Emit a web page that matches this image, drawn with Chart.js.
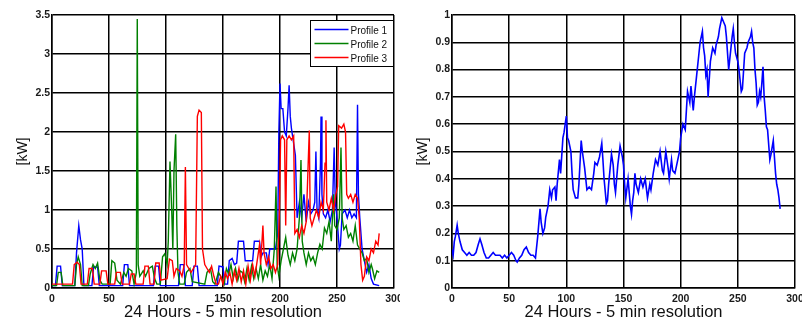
<!DOCTYPE html>
<html>
<head>
<meta charset="utf-8">
<script src="https://cdn.jsdelivr.net/npm/chart.js@4.4.1/dist/chart.umd.min.js"></script>
<style>
  html, body { margin: 0; padding: 0; background: #fff; }
  #wrap { position: relative; width: 802px; height: 323px; }
  .box { position: absolute; top: 0; height: 323px; }
</style>
</head>
<body>
<div id="wrap">
  <div class="box" style="left:0;width:400px"><canvas id="left" width="400" height="323"></canvas></div>
  <div class="box" style="left:400px;width:402px"><canvas id="right" width="402" height="323"></canvas></div>
</div>
<script>
// axis ticks / labels
const xTicks = [0, 50, 100, 150, 200, 250, 300];
const leftYTicks = [0, 0.5, 1, 1.5, 2, 2.5, 3, 3.5];
const rightYTicks = [0, 0.1, 0.2, 0.3, 0.4, 0.5, 0.6, 0.7, 0.8, 0.9, 1];
const xTitle = '24 Hours - 5 min resolution';
const yTitle = '[kW]';
const profileNames = ['Profile 1', 'Profile 2', 'Profile 3'];
const profileColors = ['#0000ff', '#008000', '#ff0000'];

// [5-min slot, kW]
const profile1 = [[0,0.03],[3,0.03],[4.5,0.28],[7.5,0.28],[9,0.03],[20,0.03],[21.5,0.45],[23.5,0.8],[25,0.62],[26.5,0.5],[28,0.03],
  [35,0.03],[36.5,0.27],[40,0.27],[41.5,0.03],[62,0.03],[63.5,0.3],[66.5,0.3],[68,0.03],[89,0.03],[90.5,0.28],[93.5,0.28],[95,0.03],
  [111,0.03],[112.5,0.3],[115.5,0.3],[117,0.03],[123,0.03],[124.5,0.28],[127.5,0.28],[129,0.03],[145,0.03],[146.5,0.28],[150,0.27],
  [151.5,0.05],[154,0.05],[155.5,0.35],[158,0.38],[160,0.3],[162,0.32],[163.5,0.6],[168,0.6],[169.5,0.35],[176,0.35],[177.5,0.6],
  [182,0.6],[183.5,0.4],[185,0.45],[188,0.45],[189.5,0.3],[191,0.5],[196,0.5],[198,0.7],[199,2.0],[200,2.62],[201,2.3],[202.5,2.3],
  [204,2.0],[205.5,1.95],[207,2.3],[208,2.6],[209,2.2],[210,2.05],[212,1.85],[213.5,1.7],[215,0.9],[217,1.1],[219,0.9],[221,1.2],
  [223,0.85],[225,1.1],[227,0.95],[229,1.0],[230.5,1.1],[231.5,1.75],[232.5,1.0],[234,0.9],[235.5,1.6],[236,2.2],[236.8,1.2],[238,0.95],
  [240,0.9],[242,1.0],[244,0.85],[246,1.0],[247.5,1.8],[248.5,1.1],[250,0.9],[252,0.5],[253,0.55],[254.5,0.95],[257,1.0],[259,0.9],
  [261,1.0],[263,0.9],[265,0.95],[267,0.9],[268,2.35],[268.8,1.2],[270,0.9],[272,0.5],[274,0.35],[276,0.2],[278,0.3],[280,0.12],
  [282,0.05],[287,0.03]];

const profile2 = [[0,0.03],[4,0.03],[5.5,0.2],[8,0.2],[9.5,0.03],[20,0.03],[21.5,0.3],[23,0.4],[25,0.3],[26.5,0.03],[32,0.03],
  [33.5,0.18],[36,0.3],[38,0.25],[40,0.32],[42,0.1],[44,0.05],[51,0.05],[52.5,0.35],[55,0.32],[57,0.1],[60,0.05],[63,0.2],[65,0.15],
  [67,0.25],[70,0.22],[72,0.05],[74,0.2],[74.8,3.45],[75.6,0.3],[77,0.15],[80,0.22],[82,0.15],[85,0.25],[88,0.28],[90,0.12],[92,0.05],
  [95,0.05],[97,0.4],[99,0.44],[101,0.3],[102,0.6],[103.5,1.62],[105,1.0],[106,0.5],[107,1.5],[108.5,1.97],[109.5,0.8],[110.5,0.2],
  [112,0.05],[116,0.05],[118,0.2],[121,0.25],[123,0.08],[134,0.05],[136,0.2],[139,0.25],[141,0.08],[143,0.05],[146,0.2],[149,0.12],
  [151,0.05],[153,0.25],[155,0.18],[157,0.3],[159,0.12],[161,0.25],[163,0.1],[165,0.22],[167,0.2],[169,0.08],[171,0.25],[173,0.1],
  [175,0.28],[177,0.12],[179,0.25],[181,0.12],[183,0.3],[185,0.1],[187,0.22],[189,0.15],[191,0.3],[193,0.12],[195,0.5],[196.5,1.3],
  [197.5,0.3],[199,0.15],[201,0.35],[203,0.5],[205,0.65],[207,0.42],[209,0.3],[211,0.45],[213,0.35],[215,0.5],[217,0.9],[218.4,1.64],
  [219.5,0.6],[221,0.45],[223,0.3],[225,0.45],[227,0.35],[229,0.4],[231,0.3],[233,0.45],[235,0.56],[237,0.5],[239,0.77],[241,0.7],
  [243,0.85],[245,0.6],[247,1.2],[248,0.8],[250,0.75],[252,0.9],[253.5,1.8],[254.5,0.9],[256,0.75],[258,0.8],[260,0.65],[262,0.7],
  [264,0.6],[266,0.8],[268,0.55],[270,0.5],[272,0.45],[274,0.35],[276,0.38],[278,0.2],[280,0.3],[281,0.25],[283,0.12],[285,0.22],[287,0.2]];

const profile3 = [[0,0.05],[18,0.05],[19.5,0.3],[22,0.33],[24,0.3],[25.5,0.05],[31,0.05],[32.5,0.25],[35.5,0.25],[37,0.05],[42,0.05],
  [43.5,0.22],[47.5,0.22],[49,0.05],[55,0.05],[56.5,0.2],[60,0.2],[61.5,0.05],[68,0.05],[69.5,0.18],[72,0.18],[73.5,0.05],[80,0.05],
  [81.5,0.28],[84.5,0.28],[86,0.05],[89.5,0.05],[91,0.32],[94,0.32],[95.5,0.1],[101,0.12],[103,0.37],[105.5,0.35],[107,0.15],[109,0.25],
  [112,0.22],[114,0.15],[116,0.3],[117,1.55],[118,0.3],[120,0.25],[122,0.2],[124,0.25],[126,0.3],[127.5,2.2],[129,2.28],[131,2.25],
  [132,0.5],[134,0.3],[136,0.25],[138,0.2],[140,0.28],[142,0.15],[144,0.05],[146,0.05],[148,0.15],[150,0.05],[152,0.2],[154,0.12],
  [156,0.2],[158,0.05],[160,0.22],[162,0.1],[164,0.25],[166,0.08],[168,0.22],[170,0.05],[172,0.28],[174,0.1],[176,0.3],[178,0.15],
  [180,0.35],[182,0.55],[183,0.3],[185,0.8],[186,0.45],[188,0.3],[190,0.4],[192,0.25],[194,0.3],[196,0.2],[198,0.3],[199.5,1.0],
  [200.5,1.9],[202,1.95],[204,1.9],[205,0.8],[206,1.9],[208,1.95],[210,1.9],[212,1.95],[213,0.7],[215,0.75],[217,0.65],[219,0.8],
  [221,0.7],[223,0.85],[224.5,1.5],[225.7,2.02],[226.5,0.9],[228,0.8],[230,0.9],[232,1.0],[234,0.9],[236,1.1],[238,1.0],[239.5,1.6],
  [240.3,2.15],[241,1.1],[243,1.0],[245,1.15],[247,1.0],[249,1.2],[250.5,1.3],[251.5,2.08],[254,2.05],[256,2.1],[257.5,2.0],[258.5,1.2],
  [260,1.15],[262,1.2],[264,1.1],[266,1.2],[268,1.15],[269.5,0.9],[271,0.3],[272.5,0.1],[274,0.15],[276,0.4],[278,0.35],[280,0.5],
  [282,0.45],[284,0.6],[286,0.55],[287,0.7]];

// mean profile, right plot
const meanProfile = [[0,0.14],[1,0.12],[2,0.17],[3,0.19],[4.5,0.23],[5.5,0.2],[7,0.17],[9,0.14],[11,0.13],[13,0.12],[15,0.13],[17,0.12],
  [19,0.12],[21,0.13],[23,0.16],[24.5,0.18],[26,0.16],[28,0.13],[30,0.11],[32,0.11],[34,0.12],[36,0.13],[38,0.12],[40,0.12],[42,0.12],
  [44,0.11],[46,0.12],[48,0.11],[50,0.12],[52,0.13],[54,0.12],[56,0.1],[57,0.095],[59,0.11],[61,0.12],[63,0.14],[65,0.15],[67,0.13],
  [69,0.12],[71,0.12],[73,0.11],[75,0.19],[77,0.29],[78,0.24],[79.5,0.2],[81,0.22],[82,0.26],[84,0.3],[85.5,0.36],[87,0.33],[88,0.36],
  [90,0.37],[91,0.32],[92,0.38],[94,0.47],[95,0.42],[97,0.55],[98,0.57],[99,0.6],[100,0.63],[101,0.55],[102,0.54],[104,0.5],[105,0.42],
  [106,0.36],[108,0.33],[110,0.33],[111,0.38],[113,0.54],[114,0.5],[116,0.44],[118,0.36],[120,0.37],[122,0.36],[124,0.42],[125,0.46],
  [127,0.45],[129,0.48],[131,0.53],[132,0.47],[133,0.4],[135,0.31],[136,0.32],[137,0.38],[139.5,0.49],[141,0.45],[142,0.38],[143,0.35],
  [145,0.45],[147,0.52],[149,0.48],[150,0.45],[151,0.38],[152,0.33],[154,0.4],[156,0.3],[157,0.27],[158,0.32],[159,0.35],[160,0.42],
  [161,0.38],[163,0.35],[165,0.4],[167,0.37],[169,0.4],[171,0.33],[173,0.38],[174,0.36],[176,0.42],[178,0.47],[180,0.45],[182,0.5],
  [184,0.43],[185,0.42],[187,0.5],[189,0.44],[190,0.4],[192,0.47],[193,0.43],[195,0.42],[197,0.46],[199,0.5],[200,0.55],[202,0.6],
  [204,0.58],[206,0.72],[208,0.68],[209,0.74],[211,0.65],[212,0.7],[214,0.78],[216,0.86],[217,0.9],[219,0.94],[220,0.88],[221,0.85],
  [222,0.78],[223,0.8],[224,0.7],[226,0.83],[228,0.88],[230,0.86],[231,0.89],[233,0.92],[234,0.95],[236,0.99],[238,0.97],[239,0.96],
  [240,0.92],[242,0.8],[243,0.84],[245,0.92],[246,0.95],[247,0.9],[248,0.86],[250,0.83],[251,0.8],[252,0.76],[253,0.72],[254,0.73],
  [256,0.86],[258,0.88],[259,0.9],[261,0.92],[262,0.94],[263,0.9],[264,0.88],[265,0.8],[266,0.75],[267,0.67],[268,0.68],[269,0.72],
  [270,0.7],[271,0.75],[272,0.81],[273,0.7],[274,0.65],[275,0.59],[276,0.58],[278,0.47],[279,0.49],[281,0.54],[282,0.48],[283,0.42],
  [284,0.38],[285,0.36],[286,0.33],[287,0.29]];

const FONT = 'Arial, "Liberation Sans", sans-serif';

const toXY = pts => pts.map(p => ({ x: p[0], y: p[1] }));

// little MATLAB style legend box in the top right corner
const legendBox = {
  id: 'legendBox',
  afterDraw(chart, args, opts) {
    if (!opts.items) return;
    const { ctx, chartArea } = chart;
    const w = 83, h = 46;
    const x0 = Math.round(chartArea.right - 1 - w) + 0.5;
    const y0 = Math.round(chartArea.top + 5) + 0.5;
    ctx.save();
    ctx.fillStyle = '#fff';
    ctx.fillRect(x0, y0, w, h);
    ctx.strokeStyle = '#000';
    ctx.lineWidth = 1;
    ctx.strokeRect(x0, y0, w, h);
    ctx.font = '10px ' + FONT;
    ctx.textBaseline = 'middle';
    opts.items.forEach((it, i) => {
      const y = y0 + 9 + i * 14;
      ctx.strokeStyle = it.color;
      ctx.lineWidth = 1.3;
      ctx.beginPath();
      ctx.moveTo(x0 + 4, y);
      ctx.lineTo(x0 + 38, y);
      ctx.stroke();
      ctx.fillStyle = '#111';
      ctx.fillText(it.label, x0 + 40, y + 1.5);
    });
    ctx.restore();
  }
};

function makeOptions(yTicks, rightPad, legendItems, lineW) {
  return {
    responsive: false,
    animation: false,
    devicePixelRatio: 1,
    layout: { padding: { left: 0, right: rightPad, top: 15, bottom: 0 } },
    elements: { point: { radius: 0 }, line: { tension: 0, borderWidth: lineW } },
    plugins: {
      legend: { display: false },
      tooltip: { enabled: false },
      legendBox: { items: legendItems }
    },
    scales: {
      x: {
        type: 'linear',
        min: xTicks[0],
        max: xTicks[xTicks.length - 1],
        afterBuildTicks: s => { s.ticks = xTicks.map(v => ({ value: v })); },
        afterFit: s => { s.height = 35; s.paddingLeft = 0; s.paddingRight = 0; },
        ticks: { callback: v => String(v), font: { family: FONT, size: 10.5, weight: 'bold' }, color: '#1a1a1a', padding: 5, maxRotation: 0 },
        grid: { color: '#000', lineWidth: 1.5, drawTicks: false },
        border: { color: '#000', width: 1.5 },
        title: { display: true, text: xTitle, font: { family: FONT, size: 16.5 }, color: '#111', padding: { top: 0, bottom: 1 } }
      },
      y: {
        min: yTicks[0],
        max: yTicks[yTicks.length - 1],
        afterBuildTicks: s => { s.ticks = yTicks.map(v => ({ value: v })); },
        afterFit: s => { s.width = 52; s.paddingTop = 0; s.paddingBottom = 0; },
        ticks: { callback: v => String(v), font: { family: FONT, size: 10.5, weight: 'bold' }, color: '#1a1a1a', padding: 2 },
        grid: { color: '#000', lineWidth: 1.5, drawTicks: false },
        border: { color: '#000', width: 1.5 },
        title: { display: true, text: yTitle, font: { family: FONT, size: 14 }, color: '#111', padding: { top: 15, bottom: 0 } }
      }
    }
  };
}

new Chart(document.getElementById('left'), {
  type: 'line',
  data: {
    datasets: [profile1, profile2, profile3].map((pts, i) => ({
      label: profileNames[i],
      data: toXY(pts),
      borderColor: profileColors[i],
      order: 2 - i
    }))
  },
  options: makeOptions(leftYTicks, 6, profileNames.map((n, i) => ({ label: n, color: profileColors[i] })), 1.4),
  plugins: [legendBox]
});

new Chart(document.getElementById('right'), {
  type: 'line',
  data: {
    datasets: [{ label: 'Mean', data: toXY(meanProfile), borderColor: '#0000ff' }]
  },
  options: makeOptions(rightYTicks, 7, null, 1.6),
  plugins: [legendBox]
});
</script>
</body>
</html>
